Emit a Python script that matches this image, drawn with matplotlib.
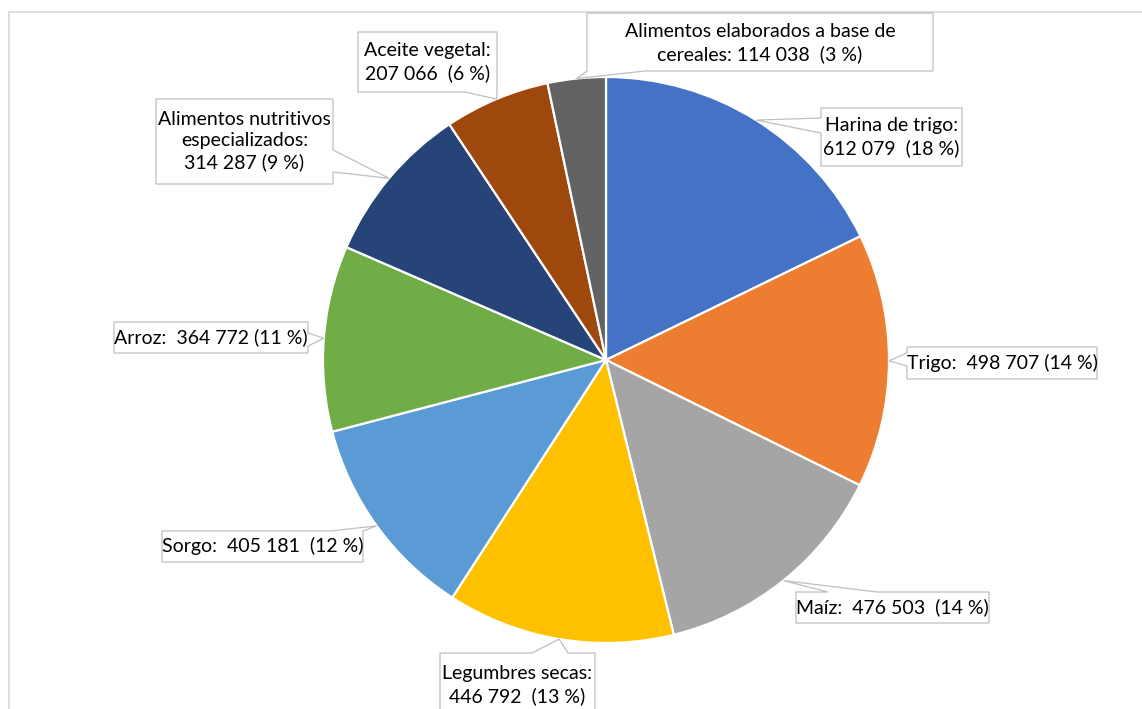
import numpy as np
import matplotlib
matplotlib.use("Agg")
import matplotlib.pyplot as plt
from matplotlib.patches import Polygon, Rectangle

W, H = 1142, 709

categories = ["Harina de trigo", "Trigo", "Maíz", "Legumbres secas", "Sorgo",
              "Arroz", "Alimentos nutritivos especializados", "Aceite vegetal",
              "Alimentos elaborados a base de cereales"]
values = [612079, 498707, 476503, 446792, 405181, 364772, 314287, 207066, 114038]
labels = ["Harina de trigo:\n612 079  (18 %)",
          "Trigo:  498 707 (14 %)",
          "Maíz:  476 503  (14 %)",
          "Legumbres secas:\n446 792  (13 %)",
          "Sorgo:  405 181  (12 %)",
          "Arroz:  364 772 (11 %)",
          "Alimentos nutritivos\nespecializados:\n314 287 (9 %)",
          "Aceite vegetal:\n207 066  (6 %)",
          "Alimentos elaborados a base de\ncereales: 114 038  (3 %)"]
colors = ["#4472C4", "#ED7D31", "#A5A5A5", "#FFC000", "#5B9BD5",
          "#70AD47", "#264478", "#9E480E", "#636363"]

# callout layout in pixel coords: box (left, top, right, bottom), side, wedge base, text center y
callouts = [
    ((821, 108, 962, 166), "left", (118, 133), 137),
    ((907, 347, 1097, 379), "left", (353, 366), 363),
    ((796, 592, 989, 623), "top", (828, 877), 607),
    ((440, 653, 595, 730), "top", (532, 568), 685),
    ((162, 531, 363, 562), "top", (330, 363), 546),
    ((114, 322, 308, 353), "right", (333, 346), 337),
    ((156, 99, 333, 184), "right", (150, 172), 141),
    ((358, 32, 497, 92), "bottom", (465, 497), 62),
    ((587, 13, 933, 71), "bottom", (587, 645), 43),
]

cx, cy, r = 606, 360, 283


def fy(y):
    return H - y


def callout_poly(box, side, base, tip):
    l, t, rr, b = box
    a0, a1 = base
    if side == "left":
        pts = [(l, t), (rr, t), (rr, b), (l, b), (l, a1), tip, (l, a0)]
    elif side == "right":
        pts = [(l, t), (rr, t), (rr, a0), tip, (rr, a1), (rr, b), (l, b)]
    elif side == "top":
        pts = [(l, t), (a0, t), tip, (a1, t), (rr, t), (rr, b), (l, b)]
    else:
        pts = [(l, t), (rr, t), (rr, b), (a1, b), tip, (a0, b), (l, b)]
    return [(x, fy(y)) for x, y in pts]


fig = plt.figure(figsize=(W / 100, H / 100), dpi=100)
ax = fig.add_axes([0, 0, 1, 1])

# chart area border
ax.add_patch(Rectangle((9, fy(740)), 1160, 728, fill=False, edgecolor="#D9D9D9", linewidth=1.2))

ax.pie(values, colors=colors, startangle=90, counterclock=False,
       center=(cx, fy(cy)), radius=r, frame=True,
       wedgeprops=dict(edgecolor="white", linewidth=1.6))
ax.set_xlim(0, W)
ax.set_ylim(0, H)
ax.axis("off")

total = float(sum(values))
start = 90.0
for i, v in enumerate(values):
    span = 360.0 * v / total
    mid = np.radians(start - span / 2)
    start -= span
    tip = (cx + r * np.cos(mid), cy - r * np.sin(mid))
    box, side, base, ty = callouts[i]
    ax.add_patch(Polygon(callout_poly(box, side, base, tip), closed=True,
                         facecolor="white", edgecolor="#BFBFBF", linewidth=0.9, zorder=5))
    ax.text((box[0] + box[2]) / 2, fy(ty), labels[i], ha="center", va="center",
            fontsize=14, family="Lato", color="black", linespacing=1.3, zorder=6)

fig.savefig("out.png", dpi=100)
